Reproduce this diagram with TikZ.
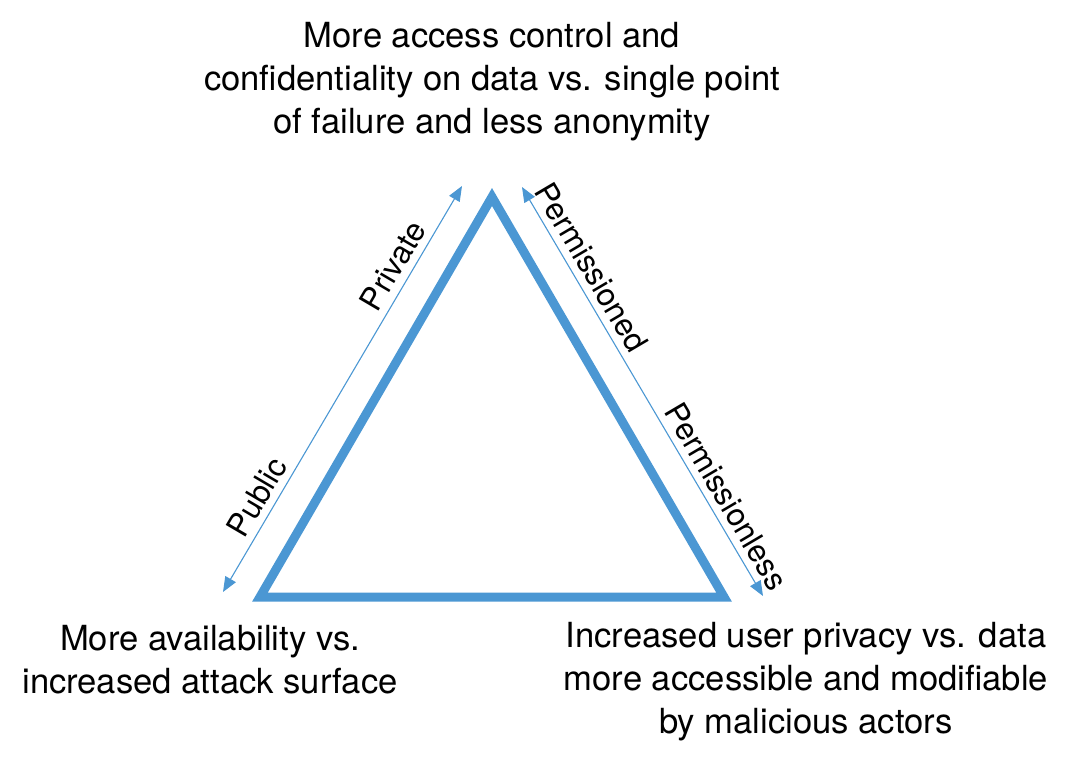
\documentclass[tikz,border=0pt]{standalone}
\usepackage{fontspec}
\setmainfont{TeX Gyre Heros}
\usepackage{tikz}
\usetikzlibrary{arrows.meta}
\usetikzlibrary{positioning}
\definecolor{bleu}{RGB}{75,151,211}
\tikzstyle{cote}=[draw=bleu,line width=9pt,line join=miter]
\tikzstyle{fleche}=[draw=bleu,line width=1.1pt,
{Triangle[length=15pt,width=12pt]}-{Triangle[length=15pt,width=12pt]}]
\tikzstyle{legende}=[align=center,text=black,
font=\fontsize{34.6}{43}\selectfont]
\tikzstyle{etiquette}=[sloped,above,inner sep=7pt,text=black,
font=\fontsize{31.5}{38}\selectfont]

\begin{document}
\begin{tikzpicture}[x=1pt,y=1pt]
\useasboundingbox (0,0) rectangle (1080,-761);
\coordinate (s) at (492,-197);
\coordinate (g) at (260,-597);
\coordinate (d) at (724,-597);
\coordinate (pa) at (223,-592);
\coordinate (pb) at (462,-186);
\coordinate (qa) at (522,-187);
\coordinate (qb) at (763,-596);
\node[legende] (haut) at (492,-82) {More access control and\\confidentiality on data vs. single point\\of failure and less anonymity};
\node[legende] (gauche) at (210,-660) {More availability vs.\\increased attack surface};
\node[legende] (droite) at (806,-682) {Increased user privacy vs. data\\more accessible and modifiable\\by malicious actors};
%triangle
\draw[cote] (s) -- (g) -- (d) -- cycle;
%fleches
\draw[fleche] (pa) -- (pb) node[etiquette,pos=0.21]{Public} node[etiquette,pos=0.78]{Private};
\draw[fleche] (qa) -- (qb) node[etiquette,pos=0.22]{Permissioned} node[etiquette,pos=0.78]{Permissionless};
\end{tikzpicture}
\end{document}
